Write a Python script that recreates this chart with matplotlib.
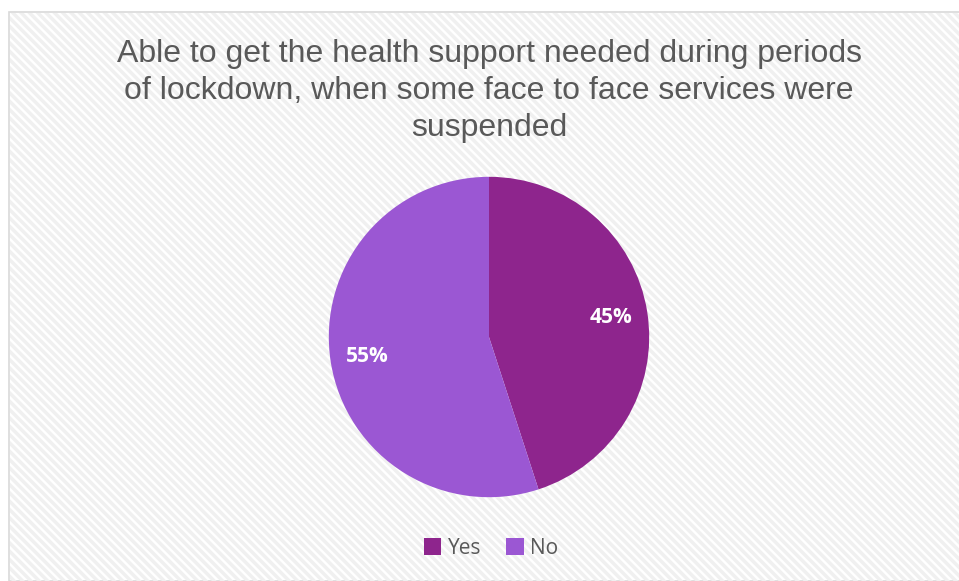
import matplotlib.pyplot as plt
from matplotlib.patches import Rectangle

title = "Able to get the health support needed during periods\nof lockdown, when some face to face services were\nsuspended"
labels = ["Yes", "No"]
values = [45, 55]
colors = ["#8E258D", "#9B57D3"]

plt.rcParams["hatch.linewidth"] = 2.5

fig = plt.figure(figsize=(9.59, 5.81), dpi=100)
fig.patch.set_facecolor("white")

# chart area frame with light diagonal stripes
bg = Rectangle((9 / 959, 0), 1.0, 1 - 12 / 581, transform=fig.transFigure,
               facecolor="white", edgecolor="#D9D9D9", linewidth=1.2, zorder=0)
fig.patches.append(bg)
stripes = Rectangle((10 / 959, 0), 1.0, 1 - 13 / 581, transform=fig.transFigure,
                    facecolor="none", edgecolor="#F0F0F0", linewidth=0,
                    hatch="\\\\\\\\", zorder=0)
fig.patches.append(stripes)

fig.text(0.51, 1 - 91 / 581, title, ha="center", va="center", fontsize=23,
         color="#595959", family="Liberation Sans", linespacing=1.29, zorder=3)

r = 161
cx, cy = 489, 337
ax = fig.add_axes([(cx - r) / 959, 1 - (cy + r) / 581, 2 * r / 959, 2 * r / 581])
ax.set_zorder(2)
ax.patch.set_visible(False)
wedges, texts, autotexts = ax.pie(values, colors=colors, startangle=90, counterclock=False,
                                  autopct="%d%%", pctdistance=0.77,
                                  wedgeprops=dict(linewidth=0),
                                  textprops=dict(color="white", fontsize=15, fontweight="bold",
                                                 family="Open Sans"))
ax.set_xlim(-1.005, 1.005)
ax.set_ylim(-1.005, 1.005)
ax.set_aspect("equal")

leg = fig.legend(wedges, labels, loc="center", bbox_to_anchor=(0.512, 1 - 548 / 581),
                 ncol=2, frameon=False, handlelength=0.85, handleheight=0.85,
                 handletextpad=0.3, columnspacing=1.2,
                 prop=dict(family="Open Sans", size=15))
leg.set_zorder(3)
for t in leg.get_texts():
    t.set_color("#595959")

fig.savefig("out.png", dpi=100)
